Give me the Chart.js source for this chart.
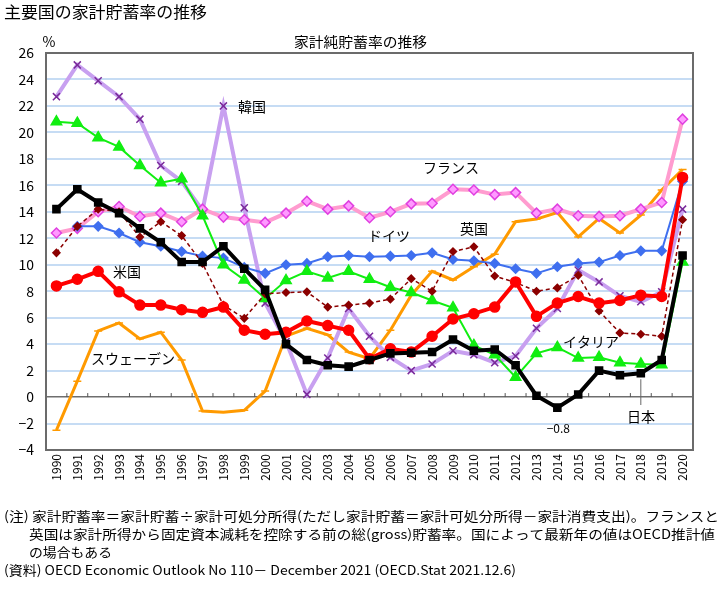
<!DOCTYPE html>
<html>
<head>
<meta charset="utf-8">
<script src="https://cdn.jsdelivr.net/npm/chart.js@4"></script>
<style>
  body { margin: 0; background: #fff; }
  canvas { display: block; }
</style>
</head>
<body>
<canvas id="savingChart" width="725" height="604"></canvas>
<script>
const years = ['1990','1991','1992','1993','1994','1995','1996','1997','1998','1999',
               '2000','2001','2002','2003','2004','2005','2006','2007','2008','2009',
               '2010','2011','2012','2013','2014','2015','2016','2017','2018','2019','2020'];

const japan   = [14.2,15.7,14.7,13.9,12.75,11.7,10.2,10.2,11.4,9.7, 8.1,4.0,2.8,2.4,2.3,2.8,3.3,3.35,3.4,4.35, 3.5,3.6,2.4,0.1,-0.8,0.2,2.0,1.65,1.8,2.8,10.7];
const usa     = [8.4,8.9,9.5,7.95,6.95,6.95,6.6,6.4,6.8,5.05, 4.75,4.9,5.75,5.4,5.05,2.9,3.65,3.4,4.6,5.9, 6.3,6.8,8.7,6.1,7.1,7.6,7.1,7.3,7.7,7.6,16.6];
const germany = [null,12.9,12.9,12.4,11.7,11.4,11.0,10.65,10.5,9.8, 9.35,10.0,10.1,10.6,10.7,10.6,10.65,10.7,10.9,10.4, 10.3,10.1,9.7,9.35,9.85,10.1,10.2,10.7,11.05,11.05,16.3];
const france  = [12.4,12.75,14.0,14.4,13.65,13.9,13.25,14.2,13.6,13.4, 13.2,13.9,14.8,14.2,14.45,13.55,14.0,14.6,14.65,15.7, 15.65,15.3,15.45,13.9,14.2,13.7,13.65,13.7,14.2,14.7,21.0];
const korea   = [22.7,25.1,23.9,22.7,21.0,17.5,16.3,14.1,22.0,14.3, 7.1,4.2,0.2,2.95,6.7,4.6,3.0,2.0,2.5,3.5, 3.2,2.6,3.1,5.2,6.7,9.6,8.7,7.65,7.2,7.95,14.2];
const italy   = [20.8,20.7,19.6,18.9,17.5,16.2,16.5,13.7,10.0,8.85, 7.45,8.8,9.5,9.0,9.5,8.9,8.3,7.9,7.3,6.75, 3.9,3.2,1.5,3.3,3.75,2.95,3.0,2.6,2.5,2.45,10.2];
const sweden  = [-2.5,1.2,5.0,5.6,4.4,4.9,2.8,-1.05,-1.15,-1.0, 0.45,4.6,5.2,4.7,3.4,2.9,5.05,7.7,9.5,8.85, 9.85,10.8,13.25,13.45,13.95,12.1,13.5,12.4,13.75,15.65,17.2];
const uk      = [10.9,12.9,14.2,14.0,12.1,13.25,12.2,10.1,6.95,5.95, 7.8,7.9,7.95,6.8,6.95,7.1,7.4,8.95,8.0,11.0, 11.35,9.15,8.65,8.0,8.25,9.2,6.5,4.85,4.75,4.6,13.4];

const yMin = -4;
const yMax = 26;
const yStep = 2;

const FONT = "'Noto Sans CJK JP', 'Noto Sans', sans-serif";

// labels placed next to the lines
const seriesLabels = [
    { text: '韓国', x: 252, y: 107 },
    { text: 'フランス', x: 451, y: 168 },
    { text: 'ドイツ', x: 389, y: 236 },
    { text: '英国', x: 474, y: 229 },
    { text: '米国', x: 127, y: 272 },
    { text: 'スウェーデン', x: 133, y: 359 },
    { text: 'イタリア', x: 591, y: 342 },
    { text: '日本', x: 641, y: 417 }
];

const notes = [
    { text: '(注) 家計貯蓄率＝家計貯蓄÷家計可処分所得(ただし家計貯蓄＝家計可処分所得－家計消費支出)。フランスと', x: 4, y: 516, w: 715 },
    { text: '英国は家計所得から固定資本減耗を控除する前の総(gross)貯蓄率。国によって最新年の値はOECD推計値', x: 29, y: 534, w: 686 },
    { text: 'の場合もある', x: 29, y: 552, w: 83 },
    { text: '(資料) OECD Economic Outlook No 110－ December 2021 (OECD.Stat 2021.12.6)', x: 4, y: 570, w: 512 }
];

function fitText(ctx, text, x, y, width) {
    const natural = ctx.measureText(text).width;
    ctx.save();
    ctx.translate(x, y);
    ctx.scale(width / natural, 1);
    ctx.fillText(text, 0, 0);
    ctx.restore();
}

const decorPlugin = {
    id: 'decor',
    beforeDraw(chart) {
        const ctx = chart.ctx;
        ctx.save();
        ctx.fillStyle = '#fff';
        ctx.fillRect(0, 0, chart.width, chart.height);
        ctx.restore();
    },
    afterDatasetsDraw(chart) {
        const ctx = chart.ctx;
        const area = chart.chartArea;
        const xs = chart.scales.x;
        const ys = chart.scales.y;

        ctx.save();
        // top and right frame
        ctx.strokeStyle = '#6b6b6b';
        ctx.lineWidth = 2;
        ctx.beginPath();
        ctx.moveTo(area.left, area.top);
        ctx.lineTo(area.right, area.top);
        ctx.lineTo(area.right, area.bottom);
        ctx.stroke();

        // small ticks on the zero line between categories
        const y0 = ys.getPixelForValue(0);
        ctx.lineWidth = 1;
        ctx.strokeStyle = '#555';
        ctx.beginPath();
        for (let i = 1; i < years.length; i++) {
            const px = (xs.getPixelForValue(i - 1) + xs.getPixelForValue(i)) / 2;
            ctx.moveTo(px, y0);
            ctx.lineTo(px, y0 - 4);
        }
        ctx.stroke();

        // leader line to 日本 label from 2018 point
        const i2018 = years.indexOf('2018');
        const lx = xs.getPixelForValue(i2018);
        ctx.strokeStyle = '#666';
        ctx.beginPath();
        ctx.moveTo(lx, ys.getPixelForValue(japan[i2018]) + 6);
        ctx.lineTo(lx, 405);
        ctx.stroke();

        ctx.fillStyle = '#000';
        ctx.textBaseline = 'middle';
        ctx.textAlign = 'center';
        ctx.font = '14px ' + FONT;
        seriesLabels.forEach(l => ctx.fillText(l.text, l.x, l.y));

        // minimum value note for Japan
        const i2014 = years.indexOf('2014');
        ctx.font = '12px ' + FONT;
        ctx.fillText('\u22120.8', xs.getPixelForValue(i2014) + 1, 428);

        // titles
        ctx.font = '14px ' + FONT;
        ctx.fillText('%', 49, 42);
        ctx.textAlign = 'left';
        fitText(ctx, '家計純貯蓄率の推移', 294, 42, 133);

        ctx.font = '16px ' + FONT;
        fitText(ctx, '主要国の家計貯蓄率の推移', 4, 12, 203);

        ctx.font = '13px ' + FONT;
        notes.forEach(n => fitText(ctx, n.text, n.x, n.y, n.w));
        ctx.restore();
    }
};

function lineSet(label, data, color, width, pointStyle, radius, fill, border, extra) {
    return Object.assign({
        label: label,
        data: data,
        borderColor: color,
        borderWidth: width,
        pointStyle: pointStyle,
        pointRadius: radius,
        pointBackgroundColor: fill,
        pointBorderColor: border,
        pointBorderWidth: 1.5,
        tension: 0,
        spanGaps: false
    }, extra || {});
}

document.addEventListener('DOMContentLoaded', function() {
    const ctx = document.getElementById('savingChart').getContext('2d');

    new Chart(ctx, {
        type: 'line',
        data: {
            labels: years,
            datasets: [
                lineSet('日本', japan, '#000000', 4, 'rect', 5, '#000000', '#000000', { order: 1 }),
                lineSet('米国', usa, '#ff0000', 4, 'circle', 5, '#ff0000', '#ff0000', { order: 2 }),
                lineSet('ドイツ', germany, '#3f6fef', 2, 'rectRot', 4.5, '#3f6fef', '#3f6fef', { order: 5 }),
                lineSet('フランス', france, '#ff9ccf', 4, 'rectRot', 5, '#ff99ff', '#e040e0', { order: 6 }),
                lineSet('韓国', korea, '#c8a0f0', 4, 'crossRot', 5, '#7a2a9a', '#7a2a9a', { order: 7 }),
                lineSet('イタリア', italy, '#11ee11', 2, 'triangle', 6, '#11ee11', '#11ee11', { order: 4 }),
                lineSet('スウェーデン', sweden, '#ff9a00', 3, 'line', 4, '#ff9a00', '#ff9a00', { order: 8 }),
                lineSet('英国', uk, '#8b0000', 1.5, 'rectRot', 3.5, '#8b0000', '#8b0000', { order: 3, borderDash: [4, 3] })
            ]
        },
        options: {
            responsive: false,
            animation: false,
            layout: {
                padding: { left: 0, top: 53, right: 32, bottom: 114 }
            },
            plugins: {
                legend: { display: false },
                tooltip: { enabled: false },
                title: { display: false }
            },
            scales: {
                x: {
                    offset: true,
                    grid: { display: false, drawTicks: false },
                    border: { display: true, color: '#6b6b6b', width: 2 },
                    ticks: {
                        autoSkip: false,
                        minRotation: 90,
                        maxRotation: 90,
                        padding: 4,
                        color: '#000',
                        font: { family: FONT, size: 12 }
                    },
                    afterFit: s => { s.height = 40; }
                },
                y: {
                    min: yMin,
                    max: yMax,
                    grid: {
                        drawTicks: false,
                        color: c => (c.tick && c.tick.value === 0) ? '#6e6e6e' : '#c6dcf4',
                        lineWidth: c => (c.tick && c.tick.value === 0) ? 1.5 : 2
                    },
                    border: { display: true, color: '#6b6b6b', width: 2 },
                    ticks: {
                        stepSize: yStep,
                        padding: 12,
                        color: '#000',
                        font: { family: FONT, size: 14 },
                        callback: v => v < 0 ? '\u2212' + Math.abs(v) : String(v)
                    },
                    afterFit: s => { s.width = 46; }
                }
            }
        },
        plugins: [decorPlugin]
    });
});
</script>
</body>
</html>
